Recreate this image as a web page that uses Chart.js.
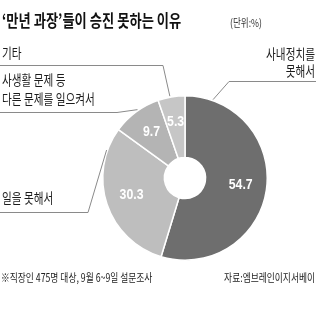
<!DOCTYPE html>
<html>
<head>
<meta charset="utf-8">
<script src="https://cdn.jsdelivr.net/npm/chart.js@4"></script>
<style>
  html, body { margin: 0; padding: 0; background: #fff; }
  #wrap { width: 316px; height: 309px; }
</style>
</head>
<body>
<div id="wrap"><canvas id="reasonChart" width="316" height="309"></canvas></div>
<script>
const categories = ['사내정치를 못해서', '일을 못해서', '사생활 문제 등 다른 문제를 일으켜서', '기타'];
const shares = [54.7, 30.3, 9.7, 5.3];
const sliceColors = ['#6e6e6e', '#bebebe', '#b4b4b4', '#c6c6c6'];

const KR = '"Noto Sans CJK KR", "Noto Sans", sans-serif';

// squeeze korean text horizontally like the newspaper font
function squeezed(ctx, text, x, y, font, sx, align) {
    ctx.save();
    ctx.font = font;
    const w = ctx.measureText(text).width * sx;
    let left = x;
    if (align === 'right') left = x - w;
    if (align === 'center') left = x - w / 2;
    ctx.translate(left, y);
    ctx.scale(sx, 1);
    ctx.textAlign = 'left';
    ctx.fillText(text, 0, 0);
    ctx.restore();
}

// point on the outer edge of a slice, t = 0..1 along the slice
function edgePoint(arc, t, extra) {
    const a = arc.startAngle + (arc.endAngle - arc.startAngle) * t;
    const r = arc.outerRadius + (extra || 0);
    return [arc.x + Math.cos(a) * r, arc.y + Math.sin(a) * r];
}

const annotations = {
    id: 'annotations',
    afterDraw(chart) {
        const ctx = chart.ctx;
        const arcs = chart.getDatasetMeta(0).data;

        // values inside slices
        ctx.fillStyle = '#fff';
        ctx.textBaseline = 'middle';
        arcs.forEach((arc, i) => {
            const mid = (arc.startAngle + arc.endAngle) / 2;
            const r = arc.innerRadius + (arc.outerRadius - arc.innerRadius) * 0.58;
            const x = arc.x + Math.cos(mid) * r;
            const y = arc.y + Math.sin(mid) * r;
            squeezed(ctx, shares[i].toFixed(1), x, y - 1, 'bold 15px "Liberation Sans", Arial, sans-serif', 0.82, 'center');
        });

        // leader lines
        ctx.strokeStyle = '#8a8a8a';
        ctx.lineWidth = 1;
        const lead = (pts) => {
            ctx.beginPath();
            ctx.moveTo(pts[0][0], pts[0][1]);
            for (let k = 1; k < pts.length; k++) ctx.lineTo(pts[k][0], pts[k][1]);
            ctx.stroke();
        };
        lead([[316, 81.5], [229, 81.5], edgePoint(arcs[0], 0.1, 1)]);
        lead([[0, 212.5], [88, 212.5], edgePoint(arcs[1], 0.85, 1)]);
        lead([[0, 112.5], [117, 112.5], edgePoint(arcs[2], 0.55, 1)]);
        lead([[0, 65.5], [163, 65.5], edgePoint(arcs[3], 0.45, 1)]);

        // category labels
        ctx.fillStyle = '#1c1c1c';
        ctx.textBaseline = 'middle';
        const lf = '14px ' + KR;
        squeezed(ctx, '사내정치를', 315, 54, lf, 0.76, 'right');
        squeezed(ctx, '못해서', 315, 71, lf, 0.76, 'right');
        squeezed(ctx, '일을 못해서', 2, 198, lf, 0.76, 'left');
        squeezed(ctx, '사생활 문제 등', 2, 80, lf, 0.76, 'left');
        squeezed(ctx, '다른 문제를 일으켜서', 2, 99, lf, 0.76, 'left');
        squeezed(ctx, '기타', 2, 53, lf, 0.76, 'left');

        // title, unit, footer
        ctx.fillStyle = '#111';
        squeezed(ctx, '\u2018만년 과장\u2019들이 승진 못하는 이유', 2, 21, 'bold 17px ' + KR, 0.78, 'left');
        ctx.fillStyle = '#333';
        squeezed(ctx, '(단위:%)', 230, 23, '11px ' + KR, 0.78, 'left');
        ctx.fillStyle = '#222';
        squeezed(ctx, '※직장인 475명 대상, 9월 6~9일 설문조사', 1, 278, '11.5px ' + KR, 0.76, 'left');
        squeezed(ctx, '자료:엠브레인이지서베이', 315, 278, '11.5px ' + KR, 0.76, 'right');
    }
};

const ctx = document.getElementById('reasonChart');
const reasonChart = new Chart(ctx, {
    type: 'doughnut',
    data: {
        labels: categories,
        datasets: [{
            data: shares,
            backgroundColor: sliceColors,
            borderColor: '#fff',
            borderWidth: 1.5
        }]
    },
    options: {
        responsive: false,
        animation: false,
        cutout: '25%',
        layout: { padding: { left: 102, right: 48, top: 95, bottom: 48 } },
        plugins: {
            legend: { display: false },
            tooltip: { enabled: false }
        }
    },
    plugins: [annotations]
});
</script>
</body>
</html>
